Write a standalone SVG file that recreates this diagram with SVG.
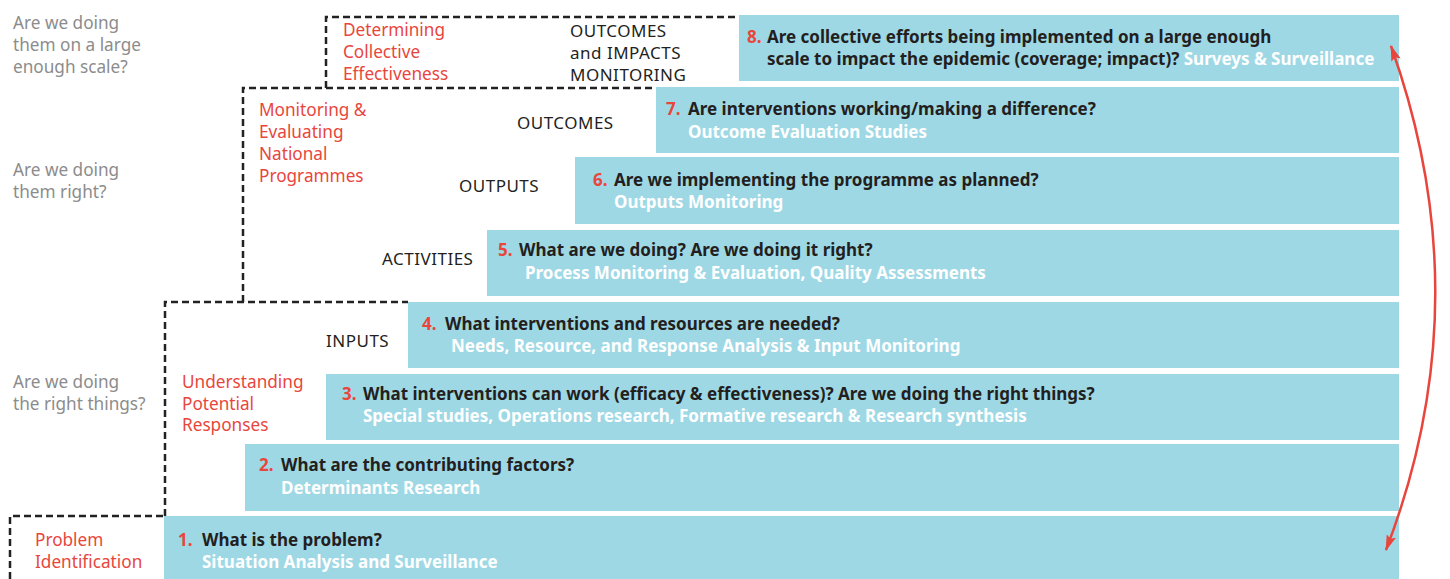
<svg xmlns="http://www.w3.org/2000/svg" width="1450" height="579" viewBox="0 0 1450 579">
<defs>
<style>
.box{fill:#9ed8e5}
.q{font-family:"Noto Sans",sans-serif;font-size:17px;font-weight:700;fill:#231f20}
.n{fill:#e8463c}
.s{font-family:"Noto Sans",sans-serif;font-size:17px;font-weight:700;fill:#ffffff}
.g{font-family:"Noto Sans",sans-serif;font-size:17.2px;fill:#8c8c8c}
.r{font-family:"Noto Sans",sans-serif;font-size:17.2px;fill:#e8463c}
.k{font-family:"Noto Sans",sans-serif;font-size:17px;letter-spacing:0.5px;fill:#231f20}
.d{fill:none;stroke:#222;stroke-width:2.5;stroke-dasharray:7 4}
</style>
<marker id="ah" viewBox="0 0 16 10" refX="15" refY="5" markerWidth="16" markerHeight="10" markerUnits="userSpaceOnUse" orient="auto-start-reverse"><path d="M0,0 L16,5 L0,10 L3,5 Z" fill="#e8463c"/></marker>
</defs>
<rect width="1450" height="579" fill="#fff"/>
<g id="dashes">
<path class="d" d="M326,88 V17 H739"/>
<path class="d" d="M243,302 V88 H656"/>
<path class="d" d="M165,516 V302 H408"/>
<path class="d" d="M10,579 V516 H164"/>
</g>
<g id="questions">
<text class="g" x="13" y="29">Are we doing</text>
<text class="g" x="13" y="51">them on a large</text>
<text class="g" x="13" y="73">enough scale?</text>
<text class="g" x="13" y="176">Are we doing</text>
<text class="g" x="13" y="198">them right?</text>
<text class="g" x="13" y="388">Are we doing</text>
<text class="g" x="13" y="410">the right things?</text>
</g>
<g id="phases">
<text class="r" x="343" y="36">Determining</text>
<text class="r" x="343" y="58">Collective</text>
<text class="r" x="343" y="80">Effectiveness</text>
<text class="r" x="259" y="116">Monitoring &amp;</text>
<text class="r" x="259" y="138">Evaluating</text>
<text class="r" x="259" y="160">National</text>
<text class="r" x="259" y="182">Programmes</text>
<text class="r" x="182" y="388">Understanding</text>
<text class="r" x="182" y="410">Potential</text>
<text class="r" x="182" y="431">Responses</text>
<text class="r" x="35" y="546">Problem</text>
<text class="r" x="35" y="568">Identification</text>
</g>
<g id="stages">
<text class="k" x="570" y="37">OUTCOMES</text>
<text class="k" x="570" y="59">and IMPACTS</text>
<text class="k" x="570" y="81">MONITORING</text>
<text class="k" x="517" y="129">OUTCOMES</text>
<text class="k" x="459" y="192">OUTPUTS</text>
<text class="k" x="382" y="265">ACTIVITIES</text>
<text class="k" x="326" y="347">INPUTS</text>
</g>
<g id="box8"><rect class="box" x="739" y="15" width="660" height="66"/>
<text class="q" x="747" y="43"><tspan class="n">8.</tspan></text>
<text class="q" x="767" y="43">Are collective efforts being implemented on a large enough</text>
<text class="q" x="767" y="65">scale to impact the epidemic (coverage; impact)? <tspan fill="#fff">Surveys &amp; Surveillance</tspan></text></g>
<g id="box7"><rect class="box" x="656" y="87" width="743" height="66"/>
<text class="q" x="666" y="115"><tspan class="n">7.</tspan></text>
<text class="q" x="688" y="115">Are interventions working/making a difference?</text>
<text class="s" x="688" y="138">Outcome Evaluation Studies</text></g>
<g id="box6"><rect class="box" x="575" y="157" width="824" height="67"/>
<text class="q" x="593" y="186"><tspan class="n">6.</tspan></text>
<text class="q" x="614" y="186">Are we implementing the programme as planned?</text>
<text class="s" x="614" y="208">Outputs Monitoring</text></g>
<g id="box5"><rect class="box" x="487" y="230" width="912" height="66"/>
<text class="q" x="498" y="256"><tspan class="n">5.</tspan></text>
<text class="q" x="519" y="256">What are we doing? Are we doing it right?</text>
<text class="s" x="525" y="279">Process Monitoring &amp; Evaluation, Quality Assessments</text></g>
<g id="box4"><rect class="box" x="408" y="302" width="991" height="66"/>
<text class="q" x="422" y="330"><tspan class="n">4.</tspan></text>
<text class="q" x="445" y="330">What interventions and resources are needed?</text>
<text class="s" x="451" y="352">Needs, Resource, and Response Analysis &amp; Input Monitoring</text></g>
<g id="box3"><rect class="box" x="326" y="374" width="1073" height="66"/>
<text class="q" x="342" y="400"><tspan class="n">3.</tspan></text>
<text class="q" x="363" y="400">What interventions can work (efficacy &amp; effectiveness)? Are we doing the right things?</text>
<text class="s" x="363" y="422">Special studies, Operations research, Formative research &amp; Research synthesis</text></g>
<g id="box2"><rect class="box" x="245" y="444" width="1154" height="67"/>
<text class="q" x="259" y="471"><tspan class="n">2.</tspan></text>
<text class="q" x="281" y="471">What are the contributing factors?</text>
<text class="s" x="281" y="494">Determinants Research</text></g>
<g id="box1"><rect class="box" x="164" y="516" width="1235" height="63"/>
<text class="q" x="178" y="546"><tspan class="n">1.</tspan></text>
<text class="q" x="202" y="546">What is the problem?</text>
<text class="s" x="202" y="568">Situation Analysis and Surveillance</text></g>
<g id="connectors">
<path d="M1391,46 Q1482,300 1386,550" fill="none" stroke="#e8463c" stroke-width="2.5" marker-start="url(#ah)" marker-end="url(#ah)"/>
</g>
</svg>
